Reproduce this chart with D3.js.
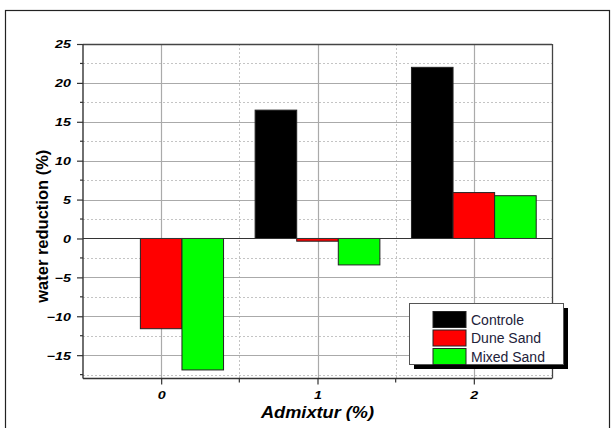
<!DOCTYPE html>
<html>
<head>
<meta charset="utf-8">
<script src="https://cdn.jsdelivr.net/npm/d3@7"></script>
<style>
  html, body { margin: 0; padding: 0; background: #fff; }
  svg { display: block; }
</style>
</head>
<body>
<svg id="chart" width="611" height="428"></svg>
<script>
// Water reduction per admixture dose, three mixes
const categories = [0, 1, 2];
const seriesNames = ["Controle", "Dune Sand", "Mixed Sand"];
const controle = [0, 16.5, 22.0];
const duneSand = [-11.6, -0.35, 5.9];
const mixedSand = [-16.9, -3.4, 5.5];
const seriesColors = ["#000000", "#ff0000", "#00ff00"];
const yTicks = [-15, -10, -5, 0, 5, 10, 15, 20, 25];
const yMinor = [-17.5, -12.5, -7.5, -2.5, 2.5, 7.5, 12.5, 17.5, 22.5];
const xMinor = [0.5, 1.5];

const series = [controle, duneSand, mixedSand];

const svg = d3.select("#chart");
const m = { left: 83, right: 552, top: 44, bottom: 378.5 };
const FONT = "'Liberation Sans', Arial, sans-serif";

// outer frame
svg.append("rect")
  .attr("x", 5.5).attr("y", 10.5)
  .attr("width", 604).attr("height", 430)
  .attr("fill", "#fff").attr("stroke", "#222").attr("stroke-width", 1.2);

const x = d3.scaleLinear().domain([-0.5, 2.5]).range([m.left, m.right]);
const y = d3.scaleLinear().domain([-18, 25]).range([m.bottom, m.top]);

const g = svg.append("g");

// minor dotted grid
g.selectAll("line.ymin").data(yMinor).join("line")
  .attr("x1", m.left).attr("x2", m.right)
  .attr("y1", d => Math.round(y(d)) + 0.5).attr("y2", d => Math.round(y(d)) + 0.5)
  .attr("stroke", "#c4c4c4").attr("stroke-dasharray", "2,2");
g.selectAll("line.xmin").data(xMinor).join("line")
  .attr("y1", m.top).attr("y2", m.bottom)
  .attr("x1", d => Math.round(x(d)) + 0.5).attr("x2", d => Math.round(x(d)) + 0.5)
  .attr("stroke", "#c4c4c4").attr("stroke-dasharray", "2,2");

// major solid grid
g.selectAll("line.ymaj").data(yTicks.filter(d => d !== 0)).join("line")
  .attr("x1", m.left).attr("x2", m.right)
  .attr("y1", d => Math.round(y(d)) + 0.5).attr("y2", d => Math.round(y(d)) + 0.5)
  .attr("stroke", "#aaaaaa").attr("stroke-width", 1.2);
g.selectAll("line.xmaj").data(categories).join("line")
  .attr("y1", m.top).attr("y2", m.bottom)
  .attr("x1", d => Math.round(x(d)) + 0.5).attr("x2", d => Math.round(x(d)) + 0.5)
  .attr("stroke", "#aaaaaa").attr("stroke-width", 1.2);

// bars
const bw = 0.266;
series.forEach((vals, si) => {
  g.selectAll("rect.s" + si).data(vals.map((v, i) => ({ v, c: categories[i] })))
    .join("rect")
    .attr("x", d => x(d.c + (si - 1) * bw - bw / 2))
    .attr("width", x(bw) - x(0))
    .attr("y", d => y(Math.max(0, d.v)))
    .attr("height", d => Math.abs(y(d.v) - y(0)))
    .attr("fill", seriesColors[si])
    .attr("stroke", "#222").attr("stroke-width", 1);
});

// zero line
g.append("line")
  .attr("x1", m.left).attr("x2", m.right)
  .attr("y1", Math.round(y(0)) + 0.5).attr("y2", Math.round(y(0)) + 0.5)
  .attr("stroke", "#333").attr("stroke-width", 1.2);

// frame of plot area (top and right)
g.append("line").attr("x1", m.left).attr("x2", m.right)
  .attr("y1", m.top + 0.5).attr("y2", m.top + 0.5).attr("stroke", "#444").attr("stroke-width", 1.3);
g.append("line").attr("x1", m.right + 0.5).attr("x2", m.right + 0.5)
  .attr("y1", m.top).attr("y2", m.bottom).attr("stroke", "#444").attr("stroke-width", 1.3);

// y axis
const yAxis = g.append("g").attr("transform", `translate(${m.left},0)`)
  .call(d3.axisLeft(y).tickValues(yTicks).tickSize(6).tickPadding(5).tickFormat(d3.format("d")));
yAxis.selectAll(".tick line").attr("stroke", "#333").attr("stroke-width", 1.2);
yAxis.append("g").selectAll("line").data(yMinor).join("line")
  .attr("x1", -3).attr("x2", 0)
  .attr("y1", d => y(d)).attr("y2", d => y(d))
  .attr("stroke", "#333").attr("stroke-width", 1.2);
// wide bold-italic tick numerals
yAxis.selectAll(".tick text")
  .attr("x", 0).attr("dy", "0.36em")
  .attr("transform", "translate(-12,0) scale(1.3,1)");

// x axis
const xAxis = g.append("g").attr("transform", `translate(0,${m.bottom})`)
  .call(d3.axisBottom(x).tickValues(categories).tickSize(6).tickPadding(6).tickFormat(d3.format("d")));
xAxis.selectAll(".tick line").attr("stroke", "#333").attr("stroke-width", 1.2);
xAxis.append("g").selectAll("line").data(xMinor).join("line")
  .attr("y1", 0).attr("y2", 4)
  .attr("x1", d => x(d)).attr("x2", d => x(d))
  .attr("stroke", "#333").attr("stroke-width", 1.2);
xAxis.selectAll(".tick text")
  .attr("y", 13).attr("dy", "0.71em")
  .attr("transform", "scale(1.3,1)");

[yAxis, xAxis].forEach(a => {
  a.select(".domain").attr("stroke", "#333").attr("stroke-width", 1.4);
  a.attr("font-family", FONT)
   .attr("font-size", 11).attr("font-weight", "bold").attr("font-style", "italic");
  a.selectAll("text").attr("fill", "#000");
});
xAxis.select(".domain").attr("d", `M${m.left},0H${m.right}`);
yAxis.select(".domain").attr("d", `M0,${m.top}V${m.bottom}`);

// axis titles
svg.append("text")
  .attr("transform", `translate(48,${(m.top + m.bottom) / 2 + 15}) rotate(-90)`)
  .attr("text-anchor", "middle")
  .attr("font-family", FONT)
  .attr("font-size", 16.5).attr("font-weight", "bold")
  .text("water reduction (%)");
svg.append("text")
  .attr("transform", `translate(${x(1)},417.5) scale(1.07,1)`)
  .attr("text-anchor", "middle")
  .attr("font-family", FONT)
  .attr("font-size", 17).attr("font-weight", "bold").attr("font-style", "italic")
  .text("Admixtur (%)");

// legend
const lg = svg.append("g");
lg.append("rect").attr("x", 414).attr("y", 308).attr("width", 154).attr("height", 61).attr("fill", "#000");
lg.append("rect").attr("x", 409.5).attr("y", 303.5).attr("width", 154).attr("height", 61)
  .attr("fill", "#fff").attr("stroke", "#555").attr("stroke-width", 1);
seriesNames.forEach((name, i) => {
  const yy = 311.5 + i * 18.5;
  lg.append("rect").attr("x", 433).attr("y", yy).attr("width", 33).attr("height", 16)
    .attr("fill", seriesColors[i]).attr("stroke", "#222").attr("stroke-width", 1);
  lg.append("text").attr("x", 471).attr("y", yy + 13)
    .attr("font-family", FONT)
    .attr("font-size", 14).attr("fill", "#22223a")
    .text(name);
});
</script>
</body>
</html>
